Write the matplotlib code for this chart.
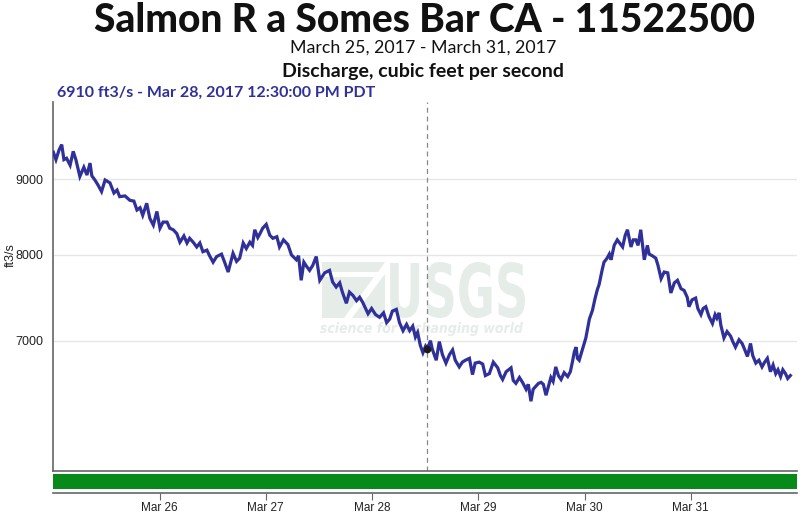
import datetime as dt
import numpy as np
import matplotlib
matplotlib.use("Agg")
import matplotlib.pyplot as plt
from matplotlib.textpath import TextPath
from matplotlib.patches import PathPatch, Polygon
from matplotlib.font_manager import FontProperties
from matplotlib.transforms import Affine2D

# discharge readings, hours after Mar 25 2017 00:00 PDT
hours = [0.0, 0.6, 1.3, 1.9, 2.4, 3.0, 3.8, 4.5, 5.1, 6.0, 6.9, 7.6, 8.3, 8.7,
         9.4, 10.1, 10.9, 11.7, 12.8, 13.7, 14.4, 15.0, 16.2, 17.3, 18.2, 18.9,
         19.6, 20.2, 21.1, 21.8, 22.6, 23.4,
         24.1, 24.8, 25.7, 26.3, 27.1, 27.9, 28.6, 29.5, 30.2, 30.8, 31.6, 32.4,
         33.1, 33.8, 34.7, 35.3, 36.1, 36.9, 38.0, 38.7, 39.5, 40.6, 41.4, 42.1,
         42.9, 43.6, 44.4, 45.0, 45.5, 46.2, 46.6, 47.3,
         48.1, 48.9, 49.6, 50.5, 51.1, 52.0, 53.0, 53.8, 54.9, 55.4, 56.0, 56.6,
         57.2, 57.9, 58.6, 59.4, 60.2, 61.3, 62.4, 63.1, 63.9, 64.7, 65.3, 66.2,
         66.9, 67.7, 68.5, 69.2, 69.9, 71.1, 71.9,
         72.8, 73.7, 74.6, 75.3, 76.0, 76.6, 77.5, 78.2, 79.0, 79.8, 80.5, 81.2,
         81.8, 82.3, 82.9, 83.5, 84.1, 84.5, 85.2, 85.6, 86.5, 87.2, 87.9, 88.7,
         89.5, 90.2, 90.8, 91.7, 92.4, 93.1, 94.0, 94.7, 95.3,
         96.2, 97.0, 97.6, 98.5, 99.4, 100.4, 101.0, 101.5, 102.3, 103.4, 103.9,
         104.5, 105.3, 106.0, 106.8, 107.3, 107.9, 108.4, 109.0, 109.6, 110.2,
         110.7, 111.3, 111.8, 112.4, 112.9, 113.5, 114.1, 114.7, 115.4, 116.2,
         116.8, 117.3, 117.7, 118.1, 118.4, 118.8, 119.5,
         120.3, 121.1, 121.8, 122.4, 122.9, 123.3, 124.0, 124.4, 125.1, 125.6,
         126.0, 126.7, 127.4, 127.8, 128.6, 129.2, 129.7, 130.5, 131.0, 131.6,
         132.1, 132.7, 133.5, 134.2, 134.6, 135.3, 136.1, 136.6, 137.3, 138.0,
         138.8, 139.5, 140.3, 141.0, 141.8, 142.5, 143.2, 143.6,
         144.3, 145.1, 145.6, 146.3, 146.8, 147.4, 148.1, 148.9, 149.5, 149.9,
         150.4, 150.8, 151.5, 152.2, 153.0, 153.5, 154.1, 154.9, 155.6, 156.3,
         156.8, 157.5, 158.0, 158.7, 159.4, 160.1, 160.7, 161.3, 162.0, 162.6,
         163.2, 163.7, 164.3, 164.8, 165.4, 165.9, 166.5]

cfs = [9390, 9280, 9420, 9500, 9280, 9300, 9200, 9400, 9280, 9040, 9170, 9060, 9230, 9050,
       8990, 8920, 8830, 8990, 8950, 8810, 8850, 8760, 8770, 8710, 8700, 8580,
       8610, 8510, 8670, 8470, 8380, 8560,
       8340, 8420, 8420, 8340, 8320, 8270, 8160, 8240, 8150, 8210, 8160, 8100,
       8150, 8040, 8060, 7990, 7910, 7980, 8010, 7910, 7790, 8020, 7920, 7960,
       8150, 8080, 8160, 8120, 8320, 8220, 8260, 8340,
       8390, 8250, 8210, 8230, 8100, 8190, 8130, 8000, 7940, 7990, 7690, 7910,
       7860, 7810, 7870, 7980, 7690, 7780, 7810, 7670, 7610, 7660, 7550, 7420,
       7550, 7510, 7450, 7490, 7430, 7300, 7360,
       7290, 7260, 7310, 7200, 7240, 7330, 7350, 7200, 7110, 7180, 7110, 7160,
       7040, 7090, 6950, 6870, 6940, 6910, 7000, 6910, 6790, 6990, 6850, 6760,
       6850, 6900, 6790, 6720, 6770, 6790, 6810, 6640, 6760,
       6770, 6750, 6630, 6650, 6770, 6710, 6630, 6590, 6670, 6710, 6580,
       6550, 6610, 6560, 6490, 6540, 6370, 6490, 6520, 6550, 6560,
       6540, 6430, 6510, 6610, 6570, 6720, 6630, 6590, 6660, 6620,
       6670, 6780, 6880, 6930, 6810, 6790, 6900,
       7030, 7240, 7340, 7480, 7580, 7640, 7820, 7910, 7960, 8010,
       7940, 8120, 8190, 8160, 8100, 8250, 8320, 8100, 8190, 8190,
       8120, 8320, 7940, 8120, 8010, 7990, 7960, 7870, 7710, 7790,
       7780, 7540, 7660, 7690, 7590, 7570, 7490, 7380,
       7460, 7480, 7360, 7290, 7360, 7380, 7270, 7190, 7290, 7250,
       7310, 7170, 7030, 7100, 7050, 6990, 6930, 7010, 6970, 6890,
       6830, 6970, 6840, 6760, 6790, 6720, 6770, 6810, 6670, 6740,
       6650, 6690, 6620, 6690, 6650, 6600, 6630]

assert len(hours) == len(cfs)

y_ticks = [7000, 8000, 9000]
day_ticks = ["Mar 26", "Mar 27", "Mar 28", "Mar 29", "Mar 30", "Mar 31"]
hover_hour = 84.5
hover_value = 6910

start = dt.datetime(2017, 3, 25)
times = [start + dt.timedelta(hours=h) for h in hours]
hover_time = start + dt.timedelta(hours=hover_hour)

LINE = "#30309a"
W, H = 800, 519

fig = plt.figure(figsize=(8, 5.19), dpi=100)
fig.patch.set_facecolor("white")

def fx(px):
    return px / W

def fy(py):
    return 1 - py / H

ax = fig.add_axes([fx(53.3), fy(470.7), fx(797) - fx(53.3), fy(101.7) - fy(470.7)])
bar = fig.add_axes([fx(53.3), fy(493), fx(797) - fx(53.3), fy(474.3) - fy(493)], sharex=ax)

# watermark, drawn behind the axes
wm = "#e6ede8"
usgs = TextPath((0, 0), "USGS", size=1, prop=FontProperties(family="DejaVu Sans", weight="bold"))
bb = usgs.get_extents()
sx = (525 - 390) / bb.width
sy = (318 - 262) / bb.height
tr = Affine2D().translate(-bb.x0, -bb.y0).scale(sx / W, sy / H).translate(fx(390), fy(318)) + fig.transFigure
fig.patches.append(PathPatch(usgs, transform=tr, facecolor=wm, edgecolor="none", zorder=-5))

sci = TextPath((0, 0), "science for a changing world", size=1,
               prop=FontProperties(family="DejaVu Sans", weight="bold", style="italic"))
bb = sci.get_extents()
sx = (523 - 320) / bb.width
sy = (336 - 322) / bb.height
tr = Affine2D().translate(-bb.x0, -bb.y0).scale(sx / W, sy / H).translate(fx(320), fy(336)) + fig.transFigure
fig.patches.append(PathPatch(sci, transform=tr, facecolor=wm, edgecolor="none", zorder=-5))

stripes = [
    [(322, 262), (385, 262), (378, 272), (322, 272)],
    [(322, 277), (374, 277), (344, 318), (322, 318)],
    [(352, 318), (385, 274), (385, 318)],
]
for pts in stripes:
    fig.patches.append(Polygon([(fx(a), fy(b)) for a, b in pts], closed=True,
                               transform=fig.transFigure, facecolor=wm, edgecolor="none", zorder=-5))

ax.patch.set_alpha(0)
ax.plot(times, cfs, color=LINE, lw=2.3, solid_joinstyle="miter", zorder=3)
ax.axvline(hover_time, color="#888888", lw=0.9, ls=(0, (4, 3)), zorder=2)
ax.plot([hover_time], [hover_value], marker="o", ms=4.5, color="#1a1a1a", zorder=4)

ax.set_yscale("log")
ax.set_ylim(5717, 10156)
ax.set_yticks(y_ticks)
ax.set_yticklabels([str(v) for v in y_ticks])
ax.yaxis.set_minor_locator(matplotlib.ticker.NullLocator())
ax.grid(axis="y", color="#e6e6e6", lw=1)
ax.set_axisbelow(True)
ax.tick_params(axis="y", length=0, pad=7, labelsize=9, labelcolor="#222222")
for lbl in ax.get_yticklabels():
    lbl.set_family(["Liberation Sans", "DejaVu Sans"])
ax.tick_params(axis="x", which="both", bottom=False, labelbottom=False)
for s in ["top", "right"]:
    ax.spines[s].set_visible(False)
for s in ["left", "bottom"]:
    ax.spines[s].set_color("#666666")
    ax.spines[s].set_linewidth(1.2)

ax.set_xlim(start, start + dt.timedelta(days=7))

fig.text(fx(11), fy(255), "ft3/s", rotation=90, ha="center", va="center",
         fontsize=9, family=["Liberation Sans", "DejaVu Sans"], color="#222222")

# approval status strip
bar.axhspan(0.2, 1.0, color="#088a1a", lw=0)
bar.set_ylim(0, 1)
bar.set_yticks([])
for s in ["top", "right", "left"]:
    bar.spines[s].set_visible(False)
bar.spines["bottom"].set_color("#666666")
bar.spines["bottom"].set_linewidth(1.2)
tick_dates = [start + dt.timedelta(days=i + 1) for i in range(len(day_ticks))]
bar.set_xticks(tick_dates)
bar.set_xticklabels(day_ticks)
bar.xaxis.set_minor_locator(matplotlib.ticker.NullLocator())
bar.tick_params(axis="x", length=5, color="#666666", pad=1.5, labelsize=8.5)
for lbl in bar.get_xticklabels():
    lbl.set_family(["Liberation Sans Narrow", "Liberation Sans", "DejaVu Sans"])
    lbl.set_color("#222222")

# titles
fig.text(fx(424), fy(21), "Salmon R a Somes Bar CA - 11522500", ha="center", va="center",
         fontsize=28, fontweight="black", family="Lato", color="#111111")
fig.text(fx(423), fy(48), "March 25, 2017 - March 31, 2017", ha="center", va="center",
         fontsize=12.8, family="Lato", color="#111111")
fig.text(fx(423), fy(72), "Discharge, cubic feet per second", ha="center", va="center",
         fontsize=14, fontweight="bold", family="Lato", color="#111111")
fig.text(fx(57), fy(93), "6910 ft3/s - Mar 28, 2017 12:30:00 PM PDT", ha="left", va="center",
         fontsize=11.5, fontweight="bold", family="Lato", color=LINE)

fig.savefig("out.png", dpi=100)
